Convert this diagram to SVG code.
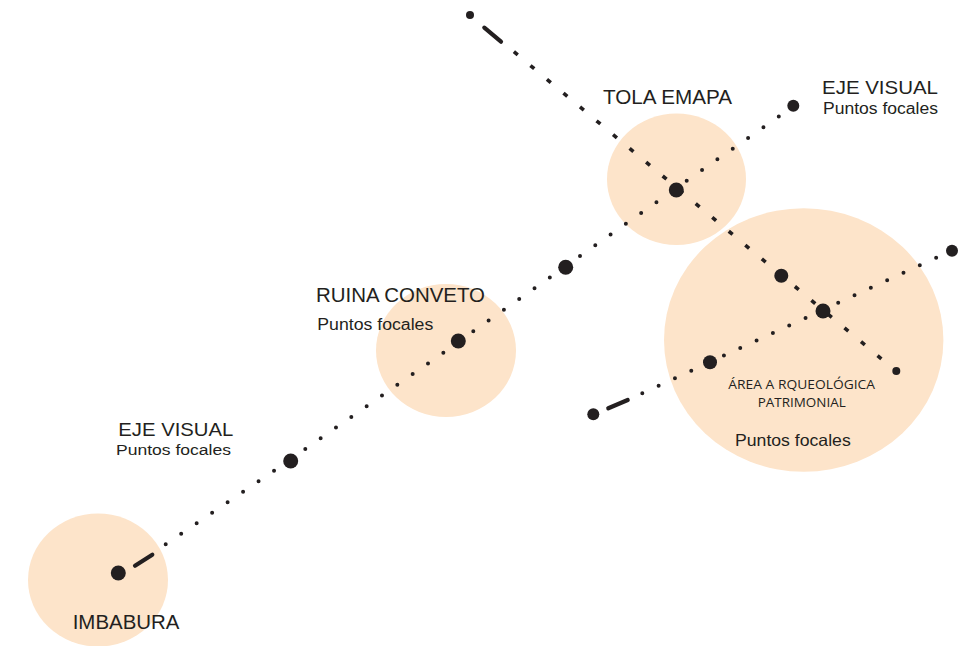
<svg xmlns="http://www.w3.org/2000/svg" width="973" height="646" viewBox="0 0 973 646">
<style>
.area{fill:#fde4ca;stroke:none}
.lbl{font-family:"Liberation Sans",Arial,sans-serif;fill:#231f20}
.small{font-family:"Open Sans","Liberation Sans",sans-serif;fill:#231f20;font-size:12.5px}
.dot{stroke:#231f20;stroke-width:4;stroke-linecap:round;fill:none;stroke-dasharray:0 18.7}
.dotc{stroke:#231f20;stroke-width:4;stroke-linecap:round;fill:none;stroke-dasharray:0 17.98}
.dash{stroke:#231f20;stroke-width:3.6;fill:none;stroke-dasharray:5 16.54}
.long{stroke:#231f20;stroke-width:4.2;stroke-linecap:round;fill:none}
.big{fill:#231f20}
</style>
<rect width="973" height="646" fill="#ffffff"/>
<g id="imbabura"><ellipse class="area" cx="98" cy="580" rx="70" ry="66.5"/><text class="lbl" x="72.7" y="629.3" font-size="20" textLength="106.7" lengthAdjust="spacingAndGlyphs">IMBABURA</text></g>
<g id="ruina"><ellipse class="area" cx="446" cy="350.5" rx="70" ry="66.5"/><text class="lbl" x="316" y="302.3" font-size="19.5" textLength="169" lengthAdjust="spacingAndGlyphs">RUINA CONVETO</text><text class="lbl" x="317.3" y="330" font-size="16" textLength="116" lengthAdjust="spacingAndGlyphs">Puntos focales</text></g>
<g id="tola"><ellipse class="area" cx="676.5" cy="179.2" rx="69.5" ry="65.8"/><text class="lbl" x="603" y="104" font-size="19.5" textLength="129" lengthAdjust="spacingAndGlyphs">TOLA EMAPA</text></g>
<g id="area"><ellipse class="area" cx="803.7" cy="340" rx="139.7" ry="131.7"/><text class="small" x="801.7" y="389.3" text-anchor="middle" textLength="146.7" lengthAdjust="spacingAndGlyphs">ÁREA A RQUEOLÓGICA</text><text class="small" x="801.7" y="406.7" text-anchor="middle" textLength="88" lengthAdjust="spacingAndGlyphs">PATRIMONIAL</text><text class="lbl" x="735" y="446" font-size="16.5" textLength="115.7" lengthAdjust="spacingAndGlyphs">Puntos focales</text></g>
<g id="eje-tr"><text class="lbl" x="822" y="94" font-size="19" textLength="116" lengthAdjust="spacingAndGlyphs">EJE VISUAL</text><text class="lbl" x="823" y="114.3" font-size="16" textLength="115" lengthAdjust="spacingAndGlyphs">Puntos focales</text></g>
<g id="eje-bl"><text class="lbl" x="118.3" y="435.7" font-size="18.5" textLength="115" lengthAdjust="spacingAndGlyphs">EJE VISUAL</text><text class="lbl" x="116" y="455" font-size="15.5" textLength="115" lengthAdjust="spacingAndGlyphs">Puntos focales</text></g>
<g id="connectors">
<line class="long" x1="135" y1="565.7" x2="152.3" y2="554.7"/>
<line class="dot" x1="165.7" y1="544.3" x2="275.1" y2="470.1"/>
<line class="dot" x1="305.3" y1="449" x2="443.8" y2="352.4"/>
<line class="dot" x1="473.3" y1="331.3" x2="550.5" y2="277.1"/>
<line class="dot" x1="580" y1="256" x2="657.1" y2="201.7"/>
<line class="dot" x1="686.7" y1="180.7" x2="779.5" y2="116.1"/>
<line class="long" x1="484.3" y1="27.7" x2="501" y2="41.7"/>
<line class="dash" x1="513.9" y1="51.7" x2="884.3" y2="361.2"/>
<line class="long" x1="608.3" y1="408.3" x2="627.7" y2="400"/>
<line class="dotc" x1="642.3" y1="393.3" x2="936.9" y2="257.3"/>
<circle class="big" cx="118.3" cy="573" r="7.5"/>
<circle class="big" cx="290.7" cy="461" r="7.5"/>
<circle class="big" cx="458.3" cy="341" r="7.5"/>
<circle class="big" cx="565.7" cy="267.3" r="7.5"/>
<circle class="big" cx="676.3" cy="190" r="7.5"/>
<circle class="big" cx="793.3" cy="105.7" r="6"/>
<circle class="big" cx="470" cy="15" r="4"/>
<circle class="big" cx="781.3" cy="275.7" r="7"/>
<circle class="big" cx="823" cy="311" r="7.5"/>
<circle class="big" cx="896.3" cy="371" r="4"/>
<circle class="big" cx="593.3" cy="414.3" r="6"/>
<circle class="big" cx="710" cy="362.3" r="7"/>
<circle class="big" cx="952" cy="250.7" r="6"/>
</g>
</svg>
